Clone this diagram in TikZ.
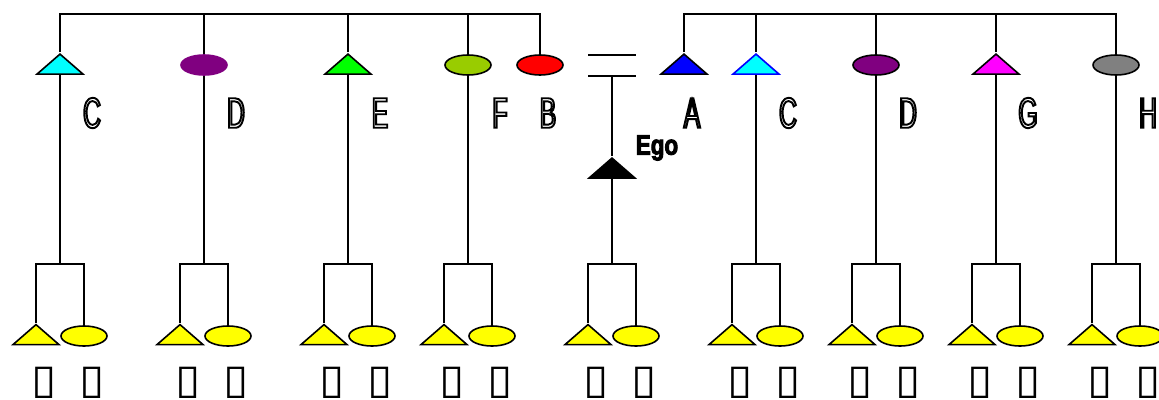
\documentclass[tikz,border=0pt]{standalone}
\usepackage{fontspec}
\usetikzlibrary{shapes.geometric}
\setmainfont{Liberation Sans}
\newfontfamily\labfont[FakeStretch=0.58]{Liberation Sans}
\newfontfamily\egofont[FakeStretch=0.8]{Liberation Sans}
\newfontfamily\boxfont{DejaVu Sans}
\definecolor{cyanc}{HTML}{00FFFF}
\definecolor{purplec}{HTML}{800080}
\definecolor{greenc}{HTML}{00FF00}
\definecolor{olivec}{HTML}{99CC00}
\definecolor{redc}{HTML}{FF0000}
\definecolor{bluec}{HTML}{0000FF}
\definecolor{magentac}{HTML}{FF00FF}
\definecolor{grayc}{HTML}{808080}
\definecolor{yellowc}{HTML}{FFFF00}
\tikzset{
  ln/.style={line width=1.6pt},
  male/.style={shape=isosceles triangle, shape border rotate=90, isosceles triangle stretches,
     minimum width=46pt, minimum height=20pt, inner sep=0pt, draw, line width=1.6pt, line join=miter},
  female/.style={shape=ellipse, minimum width=46pt, minimum height=20pt, inner sep=0pt, draw, line width=1.6pt},
  letter/.style={font=\labfont\fontsize{43}{43}\selectfont, inner sep=0pt},
  tofu/.style={font=\boxfont\fontsize{41}{41}\selectfont, inner sep=0pt, anchor=north, xscale=1.12}
}
\newcommand{\olet}[1]{\special{pdf:literal direct 1 Tr 1.9 w}#1\special{pdf:literal direct 0 Tr}}
\newcommand{\bolet}[1]{\special{pdf:literal direct 2 Tr 0.9 w}#1\special{pdf:literal direct 0 Tr}}
\begin{document}
\begin{tikzpicture}[x=1pt,y=-1pt]
\useasboundingbox (0,0) rectangle (1159,399);
\coordinate (top) at (0,14);
\coordinate (bar) at (0,264);
% left sibling group
\node[male, fill=cyanc] (c1) at (60,65.5) {};
\node[female, fill=purplec, draw=purplec] (d1) at (204,65) {};
\node[male, fill=greenc] (e1) at (348,65.5) {};
\node[female, fill=olivec] (f1) at (468,65) {};
\node[female, fill=redc] (b1) at (540,65) {};
% right sibling group
\node[male, fill=bluec] (a2) at (684,65.5) {};
\node[male, fill=cyanc, draw=bluec] (c2) at (756,65.5) {};
\node[female, fill=purplec] (d2) at (876,65) {};
\node[male, fill=magentac] (g2) at (996,65.5) {};
\node[female, fill=grayc] (h2) at (1116,65) {};
% marriage sign
\coordinate (m1l) at (588,55); \coordinate (m1r) at (636,55);
\coordinate (m2l) at (588,76); \coordinate (m2r) at (636,76);
\coordinate (m2c) at (612,76);
\draw[ln] (m1l) -- (m1r);
\draw[ln] (m2l) -- (m2r);
% ego
\node[male, fill=black] (ego) at (612,169.5) {};
\draw[ln] (m2c) -- (ego.apex);
\node[font=\egofont\bfseries\fontsize{28}{28}\selectfont, inner sep=0pt] (egol) at (657,148) {\bolet{Ego}};
% top bars
\draw[ln] (c1.apex) -- (c1.apex |- top) -- (b1.north |- top) -- (b1.north);
\draw[ln] (d1.north) -- (d1.north |- top);
\draw[ln] (e1.apex) -- (e1.apex |- top);
\draw[ln] (f1.north) -- (f1.north |- top);
\draw[ln] (a2.apex) -- (a2.apex |- top) -- (h2.north |- top) -- (h2.north);
\draw[ln] (c2.apex) -- (c2.apex |- top);
\draw[ln] (d2.north) -- (d2.north |- top);
\draw[ln] (g2.apex) -- (g2.apex |- top);
% labels
\node[letter] (lc1) at (92,113) {\olet{C}};
\node[letter] (ld1) at (236,113) {\olet{D}};
\node[letter] (le1) at (380,113) {\olet{E}};
\node[letter] (lf1) at (500,113) {\olet{F}};
\node[letter] (lb1) at (548,113) {\olet{B}};
\node[letter] (la2) at (692,113) {\olet{A}};
\node[letter] (lc2) at (788,113) {\olet{C}};
\node[letter] (ld2) at (908,113) {\olet{D}};
\node[letter] (lg2) at (1028,113) {\olet{G}};
\node[letter] (lh2) at (1148,113) {\olet{H}};
% children
\foreach \p/\x/\a in {c1/60/lower side, d1/204/south, e1/348/lower side, f1/468/south, ego/612/lower side, c2/756/lower side, d2/876/south, g2/996/lower side, h2/1116/south}{
  \coordinate (\p-bar) at (\x,264);
  \coordinate (\p-barl) at (\x-24,264);
  \coordinate (\p-barr) at (\x+24,264);
  \node[male, fill=yellowc] (\p-son) at (\x-24,336) {};
  \node[female, fill=yellowc] (\p-dau) at (\x+24,336) {};
  \draw[ln] (\p.\a) -- (\p-bar);
  \draw[ln] (\p-son.apex) -- (\p-barl) -- (\p-barr) -- (\p-dau.north);
  \node[tofu] (\p-t1) at (\x-16,367) {▯};
  \node[tofu] (\p-t2) at (\x+32,367) {▯};
}
\end{tikzpicture}
\end{document}
